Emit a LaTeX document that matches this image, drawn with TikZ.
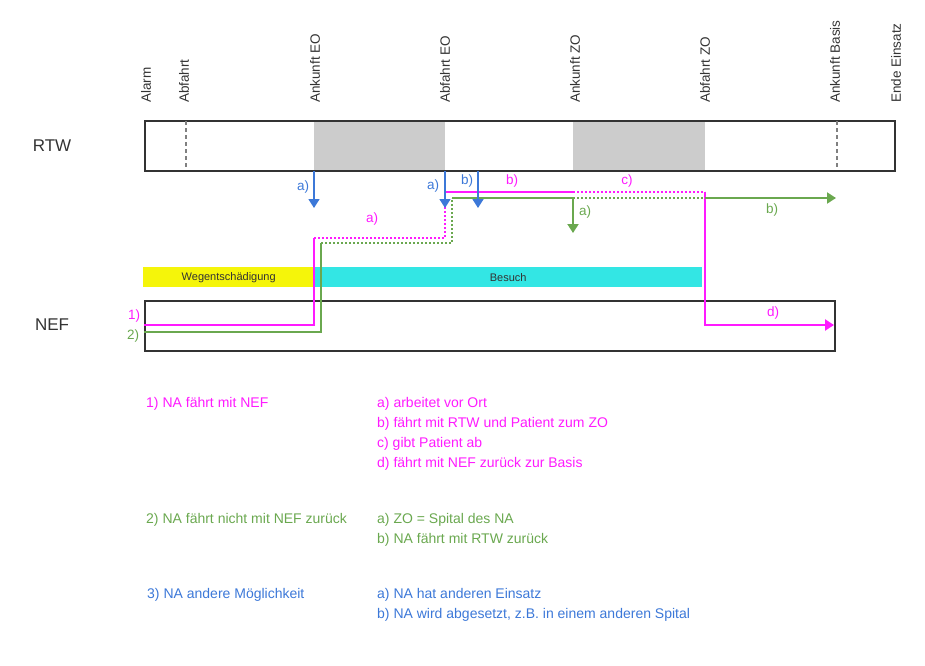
\documentclass[tikz,border=0pt]{standalone}
\usepackage{fontspec}
\setmainfont{Liberation Sans}
\usetikzlibrary{arrows.meta}
\definecolor{mag}{HTML}{FF1AFF}
\definecolor{grn}{HTML}{6AA84F}
\definecolor{blu}{HTML}{3C78D8}
\definecolor{cyn}{HTML}{33E6E4}
\definecolor{ylw}{HTML}{F5F50A}
\definecolor{gry}{HTML}{CCCCCC}
\definecolor{frm}{HTML}{333333}
\begin{document}
\begin{tikzpicture}[x=1pt,y=-1pt,
  tick/.style={rotate=90, anchor=west, inner sep=0pt, font=\fontsize{13.5}{16}\selectfont, text=frm},
  lbl/.style={inner sep=0pt, font=\fontsize{13.5}{16}\selectfont},
  leg/.style={anchor=west, inner sep=0pt, font=\fontsize{14}{17}\selectfont},
  big/.style={inner sep=0pt, font=\fontsize{17}{20}\selectfont, text=frm},
  boxframe/.style={draw=frm, line width=2pt, anchor=north west, inner sep=0pt},
  band/.style={anchor=north west, inner sep=0pt, font=\fontsize{11}{13}\selectfont, text=frm},
  mark line/.style={gray, line width=1.5pt, dash pattern=on 4pt off 3pt},
  tip/.style={-{Triangle[width=11pt,length=9pt]}},
  mline/.style={mag, line width=2.5pt},
  mdot/.style={mag, line width=2.5pt, dash pattern=on 2pt off 2pt},
  gline/.style={grn, line width=2pt},
  gdot/.style={grn, line width=2pt, dash pattern=on 2pt off 2pt},
  bline/.style={blu, line width=1.6pt}]
\useasboundingbox (0,0) rectangle (925,665);

% time ticks
\node[tick] (t1) at (146,103) {Alarm};
\node[tick] (t2) at (184,103) {Abfahrt};
\node[tick] (t3) at (315,103) {Ankunft EO};
\node[tick] (t4) at (445,103) {Abfahrt EO};
\node[tick] (t5) at (575,103) {Ankunft ZO};
\node[tick] (t6) at (705,103) {Abfahrt ZO};
\node[tick] (t7) at (835,103) {Ankunft Basis};
\node[tick] (t8) at (896,103) {Ende Einsatz};

% RTW
\node[big] (lrtw) at (52,146) {RTW};
\fill[gry] (314,120) rectangle (445,170);
\fill[gry] (573,120) rectangle (705,170);
\node[boxframe, minimum width=750pt, minimum height=50pt] (rtw) at (144,120) {};
\draw[mark line] (186,121) -- (186,169);
\draw[mark line] (837,121) -- (837,169);

% bands
\node[band, fill=ylw, minimum width=171pt, minimum height=20pt] (weg) at (143,267) {Wegentschädigung};
\node[band, fill=cyn, minimum width=388pt, minimum height=20pt] (bes) at (314,267) {Besuch};

% NEF
\node[big] (lnef) at (52,325) {NEF};
\node[boxframe, minimum width=690pt, minimum height=50pt] (nef) at (144,300) {};

% magenta path
\coordinate (m0) at (144,325);
\coordinate (m1) at (314,325);
\coordinate (m2) at (314,238);
\coordinate (m3) at (445,238);
\coordinate (m4) at (445,192);
\coordinate (m5) at (573,192);
\coordinate (m6) at (705,192);
\coordinate (m7) at (705,325);
\coordinate (m8) at (834,325);
\draw[mline] (m0) -- (m1) -- (m2);
\draw[mdot] (m2) -- (m3) -- (m4);
\draw[mline] (m4) -- (m5);
\draw[mdot] (m5) -- (m6);
\draw[mline, tip] (m6) -- (m7) -- (m8);

% green path
\coordinate (g0) at (144,332);
\coordinate (g1) at (321,332);
\coordinate (g2) at (321,243);
\coordinate (g3) at (452,243);
\coordinate (g4) at (452,198);
\coordinate (g5) at (573,198);
\coordinate (g6) at (705,198);
\coordinate (g7) at (836,198);
\coordinate (g8) at (573,233);
\draw[gline] (g0) -- (g1) -- (g2);
\draw[gdot] (g2) -- (g3) -- (g4);
\draw[gline] (g4) -- (g5);
\draw[gline, tip] (g5) -- (g8);
\draw[gdot] (g5) -- (g6);
\draw[gline, tip] (g6) -- (g7);

% blue arrows
\coordinate (b1s) at (314,171);
\coordinate (b1e) at (314,208);
\coordinate (b2s) at (445,171);
\coordinate (b2e) at (445,208);
\coordinate (b3s) at (478,171);
\coordinate (b3e) at (478,208);
\draw[bline, tip] (b1s) -- (b1e);
\draw[bline, tip] (b2s) -- (b2e);
\draw[bline, tip] (b3s) -- (b3e);

% path labels
\node[lbl, text=blu] (la1) at (303,187) {a)};
\node[lbl, text=blu] (la2) at (433,186) {a)};
\node[lbl, text=blu] (lb3) at (467,181) {b)};
\node[lbl, text=mag] (lma) at (372,219) {a)};
\node[lbl, text=mag] (lmb) at (512,181) {b)};
\node[lbl, text=mag] (lmc) at (627,181) {c)};
\node[lbl, text=mag] (lmd) at (773,313) {d)};
\node[lbl, text=grn] (lga) at (585,212) {a)};
\node[lbl, text=grn] (lgb) at (772,210) {b)};
\node[lbl, text=mag] (l1) at (134,316) {1)};
\node[lbl, text=grn] (l2) at (133,336) {2)};

% legend
\node[leg, text=mag] (k1) at (146,404) {1) NA fährt mit NEF};
\node[leg, text=mag] (k1a) at (377,404) {a) arbeitet vor Ort};
\node[leg, text=mag] (k1b) at (377,424) {b) fährt mit RTW und Patient zum ZO};
\node[leg, text=mag] (k1c) at (377,444) {c) gibt Patient ab};
\node[leg, text=mag] (k1d) at (377,464) {d) fährt mit NEF zurück zur Basis};
\node[leg, text=grn] (k2) at (146,520) {2) NA fährt nicht mit NEF zurück};
\node[leg, text=grn] (k2a) at (377,520) {a) ZO = Spital des NA};
\node[leg, text=grn] (k2b) at (377,540) {b) NA fährt mit RTW zurück};
\node[leg, text=blu] (k3) at (147,595) {3) NA andere Möglichkeit};
\node[leg, text=blu] (k3a) at (377,595) {a) NA hat anderen Einsatz};
\node[leg, text=blu] (k3b) at (377,615) {b) NA wird abgesetzt, z.B. in einem anderen Spital};
\end{tikzpicture}
\end{document}
